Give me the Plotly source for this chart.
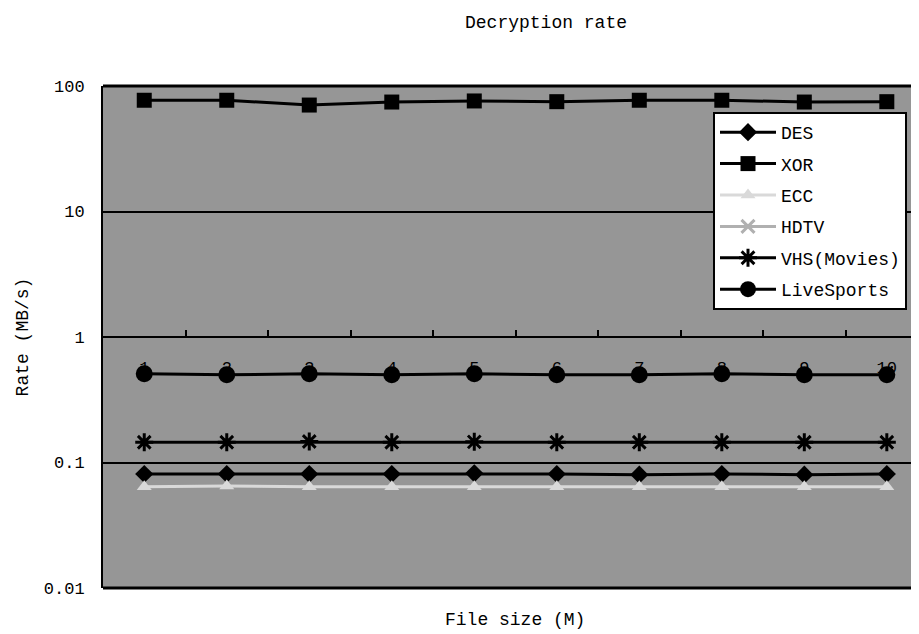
import plotly.graph_objects as go

file_sizes = ["1", "2", "3", "4", "5", "6", "7", "8", "9", "10"]
des = [0.081, 0.081, 0.081, 0.081, 0.082, 0.081, 0.080, 0.081, 0.080, 0.081]
xor = [77, 77, 70.5, 74.5, 76, 75, 77, 77, 74.5, 75]
ecc = [0.064, 0.065, 0.064, 0.064, 0.064, 0.064, 0.064, 0.064, 0.064, 0.064]
hdtv = [0.145, 0.145, 0.147, 0.145, 0.146, 0.145, 0.145, 0.145, 0.145, 0.145]
vhs = [0.145, 0.145, 0.147, 0.145, 0.146, 0.145, 0.145, 0.145, 0.145, 0.145]
live = [0.51, 0.50, 0.51, 0.50, 0.51, 0.50, 0.50, 0.51, 0.50, 0.50]

FONT = "Liberation Mono"
W, H, OFF = 911, 626, 8  # page body has an 8px margin

series = [
    ("DES", des, "black", "diamond", 14, 3),
    ("XOR", xor, "black", "square", 15, 3),
    ("ECC", ecc, "#d9d9d9", "triangle-up", 13, 3),
    ("HDTV", hdtv, "#b0b0b0", "x-thin-open", 13, 3),
    ("VHS(Movies)", vhs, "black", "asterisk-open", 15, 3),
    ("LiveSports", live, "black", "circle", 17, 3),
]

fig = go.Figure()
for name, vals, color, sym, size, lw in series:
    fig.add_trace(go.Scatter(
        x=file_sizes, y=vals, name=name, mode="lines+markers",
        legendgroup=name,
        line=dict(color=color, width=lw),
        marker=dict(symbol=sym, size=size, color=color,
                    line=dict(color=color, width=3 if "open" in sym else 0)),
    ))

fig.update_layout(
    width=W, height=H,
    margin=dict(l=103 - OFF, r=0, t=86 - OFF, b=H - (588 - OFF)),
    paper_bgcolor="white",
    plot_bgcolor="#969696",
    font=dict(family=FONT, size=18, color="black"),
    title=dict(text="Decryption rate", x=(546 - OFF) / W, xref="container", xanchor="center",
               y=1 - (22 - OFF) / H, yref="container", yanchor="middle",
               font=dict(family=FONT, size=18, color="black")),
    showlegend=True,
    legend=dict(x=(713 - 103) / 816, y=1 - (112 - 86) / 502, xanchor="left", yanchor="top",
                bgcolor="white", bordercolor="black", borderwidth=2,
                font=dict(family=FONT, size=18, color="black"),
                itemwidth=56,
                traceorder="grouped", tracegroupgap=5),
    xaxis=dict(
        type="category", range=[-0.5, 9.39],
        anchor="free", position=0.5,
        showline=True, linecolor="black", linewidth=2,
        ticks="inside", tickson="boundaries", ticklen=6, tickwidth=2, tickcolor="black",
        showgrid=False, zeroline=False,
        layer="below traces",
        ticklabelstandoff=15,
        tickfont=dict(family=FONT, size=17, color="black"),
    ),
    yaxis=dict(
        type="log", range=[-2, 2],
        tickvals=[0.01, 0.1, 1, 10, 100],
        ticktext=["0.01", "0.1", "1", "10", "100"],
        showgrid=True, gridcolor="black", gridwidth=2,
        showline=True, linecolor="black", linewidth=2,
        ticks="", ticklabelstandoff=13,
        tickfont=dict(family=FONT, size=17, color="black"),
        zeroline=False,
        title=dict(text="Rate (MB/s)", standoff=10, font=dict(family=FONT, size=18, color="black")),
    ),
    shapes=[
        dict(type="line", xref="paper", yref="paper", x0=0, x1=1, y0=0, y1=0,
             line=dict(color="black", width=3)),
        dict(type="line", xref="paper", yref="paper", x0=0, x1=1, y0=1, y1=1,
             line=dict(color="black", width=3)),
    ],
    annotations=[
        dict(text="File size (M)", xref="paper", yref="paper",
             x=(515 - 103) / 816, y=(588 - 608) / 502, xanchor="center", yanchor="top",
             showarrow=False, font=dict(family=FONT, size=18, color="black")),
    ],
)

fig.write_html("out.html")
